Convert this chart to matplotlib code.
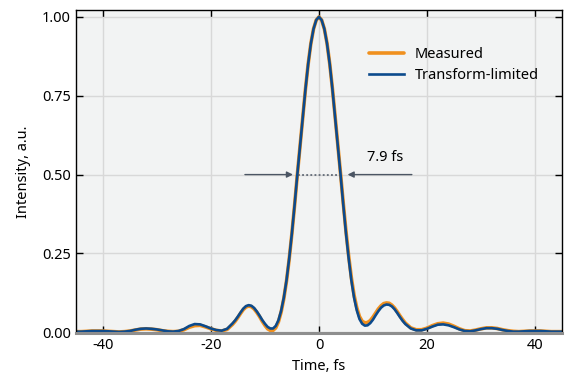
import numpy as np
import matplotlib
matplotlib.use("Agg")
import matplotlib.pyplot as plt

plt.rcParams['font.family'] = ['Noto Sans', 'DejaVu Sans']

# Time axis (fs)
time_outer_left = [-45, -44, -43, -42, -41, -40, -39, -38, -37, -36, -35, -34, -33, -32, -31,
                   -30, -29, -28, -27, -26, -25, -24, -23, -22, -21, -20, -19, -18, -17, -16]
time_core = [-15.5, -15, -14.5, -14, -13.5, -13, -12.5, -12, -11.5, -11, -10.5, -10, -9.5, -9,
             -8.5, -8, -7.5, -7, -6.5, -6, -5.5, -5, -4.5, -4, -3.5, -3, -2.5, -2, -1.5, -1,
             -0.5, 0, 0.5, 1, 1.5, 2, 2.5, 3, 3.5, 4, 4.5, 5, 5.5, 6, 6.5, 7, 7.5, 8, 8.5, 9,
             9.5, 10, 10.5, 11, 11.5, 12, 12.5, 13, 13.5, 14, 14.5, 15, 15.5]
time_outer_right = [16, 17, 18, 19, 20, 21, 22, 23, 24, 25, 26, 27, 28, 29, 30, 31, 32, 33,
                    34, 35, 36, 37, 38, 39, 40, 41, 42, 43, 44, 45]

tl_outer_left = [0.002, 0.002, 0.003, 0.004, 0.004, 0.004, 0.003, 0.002, 0.001, 0.002, 0.004,
                 0.008, 0.011, 0.012, 0.011, 0.009, 0.006, 0.003, 0.002, 0.004, 0.010, 0.020,
                 0.026, 0.025, 0.019, 0.012, 0.007, 0.005, 0.011, 0.028]
tl_core = [0.038, 0.050, 0.063, 0.075, 0.083, 0.086, 0.084, 0.077, 0.066, 0.053, 0.039, 0.027,
           0.017, 0.012, 0.012, 0.020, 0.038, 0.068, 0.110, 0.165, 0.235, 0.315, 0.405, 0.500,
           0.590, 0.680, 0.770, 0.850, 0.915, 0.962, 0.990, 1.000, 0.990, 0.962, 0.915, 0.850,
           0.770, 0.680, 0.590, 0.500, 0.405, 0.315, 0.235, 0.165, 0.110, 0.070, 0.042, 0.027,
           0.021, 0.022, 0.029, 0.040, 0.054, 0.067, 0.078, 0.085, 0.088, 0.087, 0.082, 0.073,
           0.061, 0.048, 0.036]
tl_outer_right = [0.026, 0.012, 0.006, 0.006, 0.011, 0.018, 0.024, 0.025, 0.022, 0.016, 0.009,
                  0.004, 0.003, 0.006, 0.010, 0.013, 0.013, 0.011, 0.007, 0.004, 0.002, 0.002,
                  0.003, 0.004, 0.004, 0.004, 0.003, 0.002, 0.002, 0.002]

meas_outer_left = [0.002, 0.002, 0.003, 0.004, 0.004, 0.004, 0.003, 0.002, 0.001, 0.002, 0.004,
                   0.007, 0.010, 0.011, 0.010, 0.008, 0.005, 0.003, 0.002, 0.003, 0.008, 0.016,
                   0.021, 0.022, 0.017, 0.011, 0.006, 0.004, 0.009, 0.025]
meas_core = [0.035, 0.047, 0.060, 0.072, 0.080, 0.083, 0.081, 0.074, 0.063, 0.050, 0.035, 0.022,
             0.011, 0.006, 0.006, 0.014, 0.033, 0.064, 0.107, 0.163, 0.233, 0.314, 0.404, 0.500,
             0.590, 0.680, 0.770, 0.850, 0.915, 0.962, 0.990, 1.000, 0.990, 0.962, 0.916, 0.851,
             0.772, 0.683, 0.593, 0.503, 0.410, 0.321, 0.242, 0.173, 0.118, 0.078, 0.050, 0.035,
             0.030, 0.031, 0.037, 0.048, 0.061, 0.074, 0.084, 0.091, 0.093, 0.092, 0.086, 0.077,
             0.065, 0.052, 0.040]
meas_outer_right = [0.029, 0.014, 0.008, 0.008, 0.013, 0.021, 0.027, 0.029, 0.026, 0.019, 0.011,
                    0.005, 0.004, 0.007, 0.011, 0.014, 0.014, 0.012, 0.008, 0.005, 0.003, 0.002,
                    0.003, 0.004, 0.004, 0.004, 0.003, 0.002, 0.002, 0.002]

time = time_outer_left + time_core + time_outer_right
transform_limited = tl_outer_left + tl_core + tl_outer_right
measured = meas_outer_left + meas_core + meas_outer_right

fwhm_label = "7.9 fs"
fwhm_left, fwhm_right, half = -3.95, 3.95, 0.5

x_ticks = [-40, -20, 0, 20, 40]
y_ticks = [0.0, 0.25, 0.5, 0.75, 1.0]

fig = plt.figure(figsize=(5.66, 3.83), dpi=100)
ax = fig.add_axes([0.134, 0.130, 0.859, 0.844])
ax.set_facecolor('#f2f3f3')

ax.plot(time, measured, color='#f0901e', lw=2.6, label='Measured', solid_capstyle='round')
ax.plot(time, transform_limited, color='#0c4a8c', lw=1.9, label='Transform-limited')

ax.set_xlim(-45, 45)
ax.set_ylim(-0.003, 1.022)
ax.set_xticks(x_ticks)
ax.set_yticks(y_ticks)
ax.set_xticklabels([str(v) for v in x_ticks])
ax.set_yticklabels([f"{v:.2f}" for v in y_ticks])
ax.grid(True, color='#d8d8d8', lw=1)
ax.set_axisbelow(True)
ax.tick_params(direction='in', length=5, width=1, top=True, right=True, labelsize=10.5, colors='black')
for side in ['left', 'top', 'right']:
    ax.spines[side].set_color('black')
    ax.spines[side].set_linewidth(1)
ax.spines['bottom'].set_color('#8e8e8e')
ax.spines['bottom'].set_linewidth(2.2)

ax.set_xlabel('Time, fs', fontsize=10.5, labelpad=4)
ax.set_ylabel('Intensity, a.u.', fontsize=10.5, labelpad=8)

# FWHM annotation
arrow_kw = dict(arrowstyle='-|>', color='#4b5563', lw=1, mutation_scale=9, shrinkA=0, shrinkB=0)
ax.annotate('', xy=(-4.8, half), xytext=(-13.7, half), arrowprops=arrow_kw)
ax.annotate('', xy=(5.3, half), xytext=(17.2, half), arrowprops=arrow_kw)
ax.plot([fwhm_left, fwhm_right], [half, half], ls=(0, (1.2, 1.5)), color='#4b5563', lw=1.1)
ax.text(12.3, 0.553, fwhm_label, ha='center', va='center', fontsize=10.5)

leg = ax.legend(loc='upper right', bbox_to_anchor=(0.98, 0.925), frameon=False,
                fontsize=10.5, handlelength=2.4, handletextpad=0.75, labelspacing=0.4)

fig.savefig('out.png', dpi=100)
